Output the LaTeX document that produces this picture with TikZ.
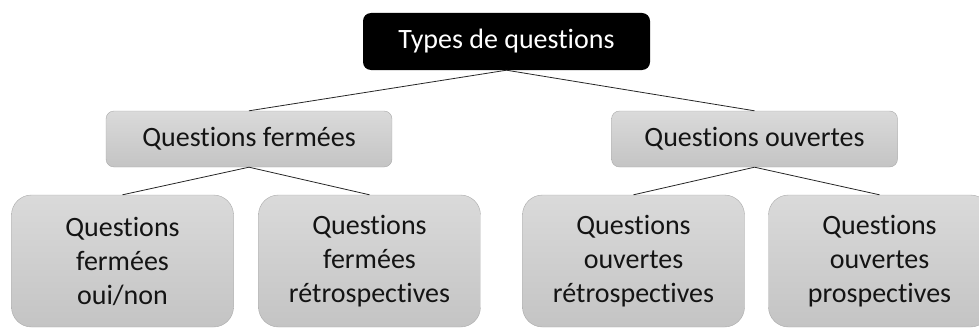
\documentclass[tikz,border=0pt]{standalone}
\usepackage{fontspec}
\setmainfont{Carlito}[Ligatures=NoCommon]
\definecolor{boxtop}{RGB}{218, 218, 218}
\definecolor{boxbot}{RGB}{196, 196, 196}
\definecolor{boxline}{RGB}{170, 170, 170}
\definecolor{txtdark}{RGB}{20, 20, 20}
\usetikzlibrary{positioning}

\begin{document}
\begin{tikzpicture}[x=1pt, y=-1pt,
    rootbox/.style={fill=black, text=white, rounded corners=8pt, minimum width=287pt, minimum height=57pt, inner sep=0pt, font=\fontsize{28}{34}\selectfont},
    catbox/.style={draw=boxline, top color=boxtop, bottom color=boxbot, text=txtdark, rounded corners=8pt, minimum width=286pt, minimum height=56pt, inner sep=0pt, font=\fontsize{28}{34}\selectfont},
    leafbox/.style={draw=boxline, top color=boxtop, bottom color=boxbot, text=txtdark, rounded corners=20pt, minimum width=222pt, minimum height=132pt, inner sep=0pt, align=center, font=\fontsize{28}{34}\selectfont, execute at begin node={\rule{0pt}{29pt}}},
    link/.style={draw=black!85, line width=0.8pt}]
  \useasboundingbox (0, 0) rectangle (979, 329);

  % Root
  \node[rootbox] (types) at (506.5, 41.5) {Types de questions};

  % Two families
  \node[catbox] (fermees) at (249, 139) {Questions fermées};
  \node[catbox] (ouvertes) at (754.5, 139) {Questions ouvertes};

  % Leaves
  \node[leafbox] (ouinon) at (122.5, 261) {Questions\\fermées\\oui/non};
  \node[leafbox] (fretro) at (369.5, 261) {Questions\\fermées\\rétrospectives};
  \node[leafbox] (oretro) at (633.5, 261) {Questions\\ouvertes\\rétrospectives};
  \node[leafbox] (oprosp) at (879.5, 261) {Questions\\ouvertes\\prospectives};

  % Links
  \draw[link] (types.south) -- (fermees.north);
  \draw[link] (types.south) -- (ouvertes.north);
  \draw[link] (fermees.south) -- (ouinon.north);
  \draw[link] (fermees.south) -- (fretro.north);
  \draw[link] (ouvertes.south) -- (oretro.north);
  \draw[link] (ouvertes.south) -- (oprosp.north);
\end{tikzpicture}
\end{document}
